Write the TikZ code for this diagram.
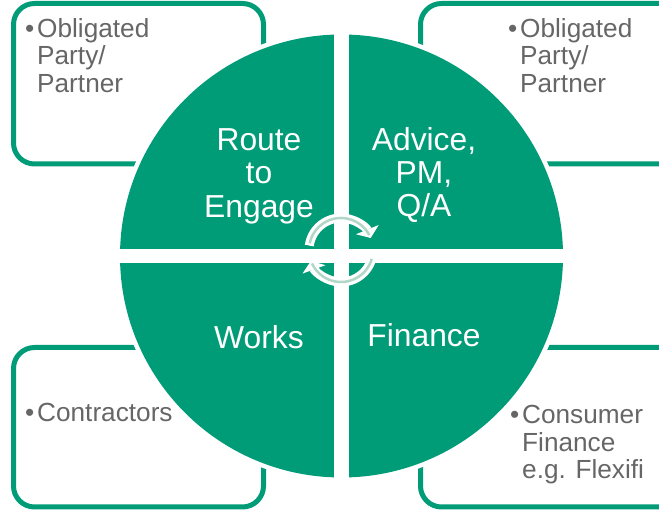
\documentclass[tikz,border=0pt]{standalone}
\usepackage{fontspec}
\setmainfont{Liberation Sans}
\usetikzlibrary{arrows.meta,calc}
\definecolor{wheelgreen}{RGB}{0,155,119}
\definecolor{itemgrey}{RGB}{102,102,102}
\definecolor{cyclegreen}{RGB}{178,214,200}
\tikzset{
  framebox/.style={draw=wheelgreen,line width=5pt,rounded corners=21pt},
  itemtext/.style={text=itemgrey,anchor=north west,inner sep=0pt,align=left,font=\fontsize{26.2}{27.7}\selectfont},
  wheeltext/.style={text=white,inner sep=0pt,align=center,font=\fontsize{31.8}{33.4}\selectfont},
  cyclehalo/.style={draw=white,line width=9pt},
  cycleline/.style={draw=cyclegreen,line width=2.5pt}
}
\newcommand{\itembullet}{\makebox[0pt][r]{\textbullet\hspace{3pt}}}
\begin{document}
\begin{tikzpicture}[x=1pt,y=1pt]
  \useasboundingbox (0,0) rectangle (659,510);
  \clip (0,0) rectangle (659,510);
  % Frames behind the wheel
  \draw[framebox] (13.5,346) rectangle (263.5,506.5);
  \draw[framebox] (420.5,346) rectangle (680,506.5);
  \draw[framebox] (13.5,3) rectangle (263.5,162.5);
  \draw[framebox] (420.5,3) rectangle (680,162.5);
  % Wheel with its white cross
  \coordinate (hub) at (341.5,254);
  \fill[white] (hub) circle (226);
  \fill[wheelgreen] (hub) circle (221.5);
  \fill[white] (334,28) rectangle (349,480);
  \fill[white] (115,247) rectangle (568,261);
  % Cycle arrows round the hub
  \coordinate (cyc) at (341,260);
  \draw[cyclehalo,-{Triangle[width=24pt,length=9pt]}] ($(cyc)+(172:32)$) arc[start angle=172,end angle=22,radius=32];
  \draw[cyclehalo,-{Triangle[width=24pt,length=9pt]}] ($(cyc)+(-12:32)$) arc[start angle=-12,end angle=-160,radius=32];
  \draw[cycleline] ($(cyc)+(168:32)$) arc[start angle=168,end angle=28,radius=32];
  \draw[cycleline] ($(cyc)+(-16:32)$) arc[start angle=-16,end angle=-155,radius=32];
  % Wheel labels
  \node[wheeltext] (route) at (259,334) {Route\\to\\Engage};
  \node[wheeltext] (advice) at (424,335) {Advice,\\PM,\\Q/A};
  \node[wheeltext] (works) at (259,173) {Works};
  \node[wheeltext] (finance) at (424,175) {Finance};
  % Bullet texts in the frames
  \node[itemtext] (itemtl) at (37,492) {\itembullet Obligated\\Party/\\Partner};
  \node[itemtext] (itemtr) at (520,492) {\itembullet Obligated\\Party/\\Partner};
  \node[itemtext] (itembl) at (37,107) {\itembullet Contractors};
  \node[itemtext] (itembr) at (522,105) {\itembullet Consumer\\Finance\\e.g. Flexifi};
\end{tikzpicture}
\end{document}
